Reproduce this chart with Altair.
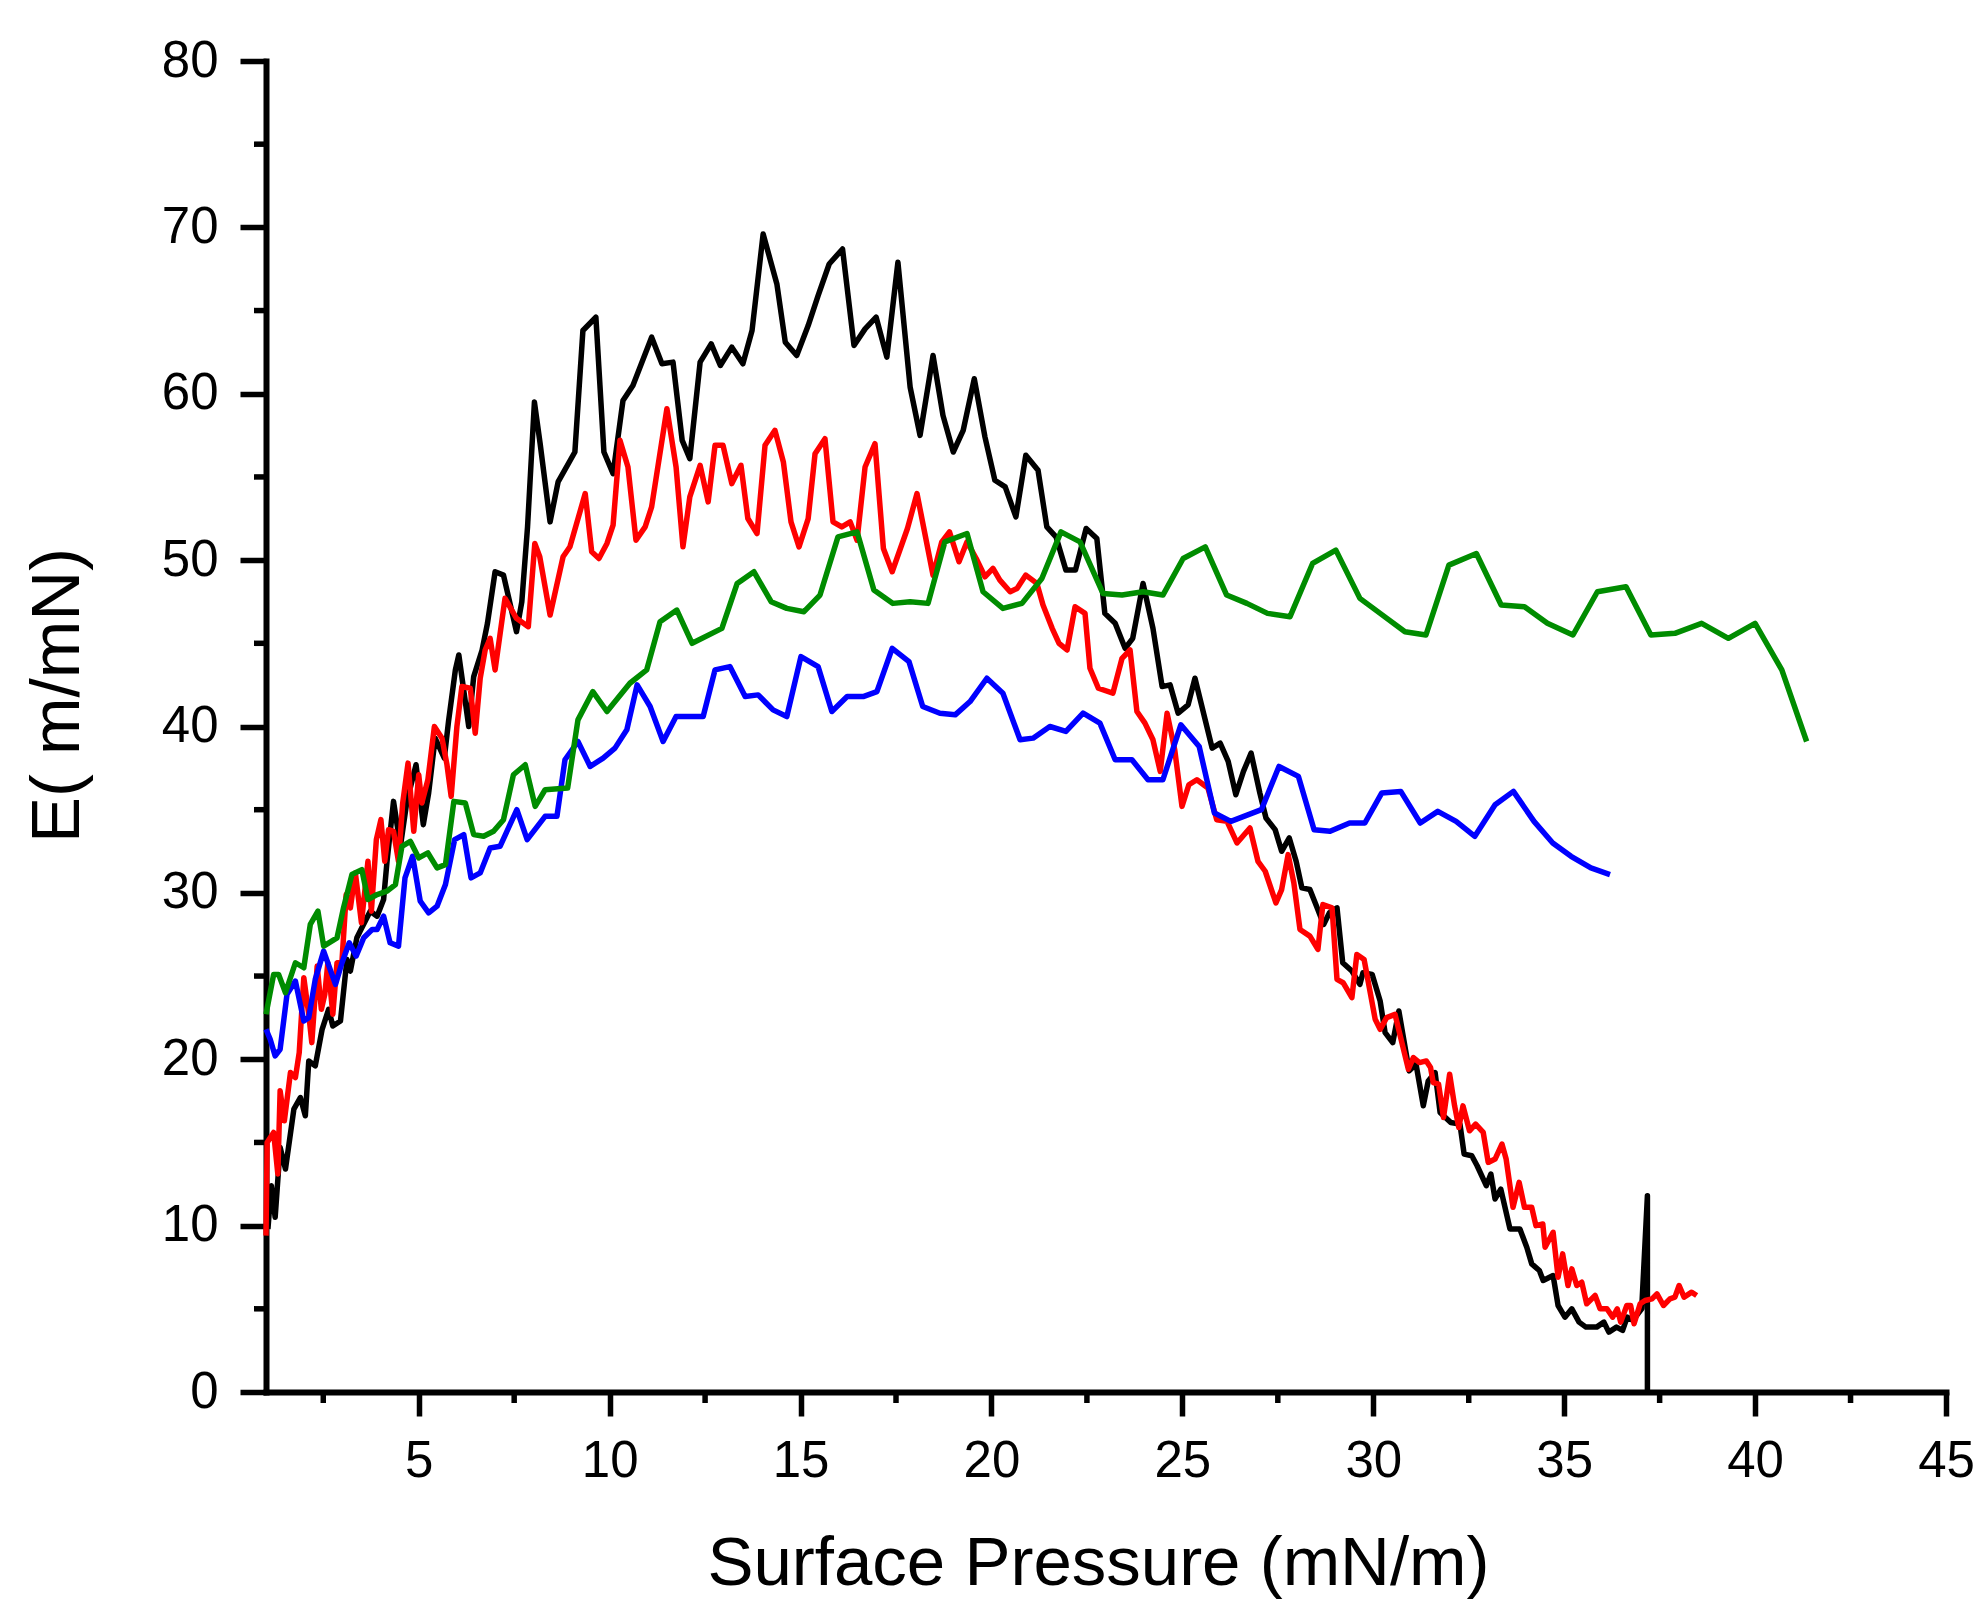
import altair as alt
import pandas as pd

# ---- data (x = surface pressure mN/m, y = E m/mN) ----
BLACK = [(1.05, 9.8), (1.14, 12.4), (1.24, 10.5), (1.37, 14.7), (1.51, 13.4), (1.73, 17.0), (1.9, 17.7),
         (2.03, 16.6), (2.12, 19.9), (2.29, 19.6), (2.47, 21.8), (2.64, 23.0), (2.75, 22.0), (2.95, 22.3),
         (3.12, 26.0), (3.21, 25.3), (3.38, 27.3), (3.51, 27.9), (3.73, 28.9), (3.91, 28.6), (4.08, 29.6),
         (4.17, 31.9), (4.34, 35.5), (4.46, 33.7), (4.52, 32.8), (4.69, 35.5), (4.93, 37.7), (5.12, 34.1),
         (5.26, 36.0), (5.43, 39.3), (5.67, 38.1), (5.78, 40.3), (5.96, 43.4), (6.05, 44.3), (6.31, 40.0),
         (6.44, 43.0), (6.66, 44.6), (6.8, 46.2), (7.0, 49.3), (7.22, 49.1), (7.56, 45.7), (7.7, 47.5),
         (7.85, 52.0), (8.03, 59.5), (8.18, 57.0), (8.44, 52.3), (8.65, 54.7), (9.09, 56.5), (9.3, 63.8),
         (9.64, 64.6), (9.85, 56.5), (10.09, 55.2), (10.35, 59.6), (10.61, 60.5), (11.1, 63.4), (11.37, 61.8),
         (11.66, 61.9), (11.9, 57.2), (12.1, 56.1), (12.37, 61.9), (12.66, 63.0), (12.9, 61.7), (13.2, 62.8),
         (13.49, 61.8), (13.73, 63.8), (14.02, 69.6), (14.38, 66.6), (14.6, 63.1), (14.9, 62.3), (15.2, 64.1),
         (15.46, 65.9), (15.75, 67.8), (16.1, 68.7), (16.4, 62.9), (16.69, 63.9), (16.98, 64.6), (17.26, 62.2),
         (17.55, 67.9), (17.87, 60.4), (18.13, 57.5), (18.47, 62.3), (18.73, 58.7), (19.0, 56.5), (19.26, 57.8),
         (19.55, 60.9), (19.83, 57.4), (20.09, 54.8), (20.36, 54.4), (20.64, 52.6), (20.9, 56.3), (21.22, 55.4),
         (21.45, 52.0), (21.69, 51.4), (21.95, 49.4), (22.2, 49.4), (22.48, 51.9), (22.76, 51.3), (22.97, 46.8),
         (23.24, 46.2), (23.5, 44.7), (23.7, 45.3), (23.97, 48.6), (24.23, 45.9), (24.47, 42.4), (24.68, 42.5),
         (24.89, 40.8), (25.15, 41.3), (25.33, 42.9), (25.78, 38.7), (25.99, 39.0), (26.2, 37.9), (26.4, 35.9),
         (26.6, 37.3), (26.8, 38.4), (27.03, 36.0), (27.19, 34.5), (27.43, 33.8), (27.6, 32.5), (27.8, 33.3),
         (27.98, 31.9), (28.13, 30.3), (28.34, 30.2), (28.53, 29.1), (28.7, 28.1), (28.85, 28.8), (29.05, 29.1),
         (29.2, 25.8), (29.44, 25.3), (29.65, 24.5), (29.73, 25.2), (29.97, 25.1), (30.18, 23.5), (30.31, 21.6),
         (30.51, 21.0), (30.67, 22.9), (30.94, 19.3), (31.12, 19.7), (31.31, 17.2), (31.44, 18.7), (31.62, 19.2),
         (31.75, 16.8), (32.03, 16.2), (32.27, 16.1), (32.38, 14.3), (32.58, 14.2), (32.72, 13.6), (32.96, 12.4),
         (33.08, 13.1), (33.19, 11.6), (33.34, 12.2), (33.58, 9.8), (33.84, 9.8), (34.02, 8.7), (34.15, 7.7),
         (34.35, 7.3), (34.45, 6.7), (34.71, 7.0), (34.84, 5.2), (35.02, 4.5), (35.2, 5.0), (35.39, 4.2),
         (35.57, 3.9), (35.85, 3.9), (36.04, 4.2), (36.17, 3.6), (36.37, 3.9), (36.53, 3.7), (36.65, 4.5),
         (36.8, 4.3), (37.03, 5.0), (37.18, 11.8), (37.18, 0.0)]

RED = [(1.0, 9.4), (1.03, 15.0), (1.2, 15.6), (1.31, 13.1), (1.37, 18.1), (1.48, 16.3), (1.64, 19.2),
       (1.77, 18.9), (1.87, 20.4), (1.99, 24.9), (2.12, 22.7), (2.2, 21.0), (2.34, 25.6), (2.45, 23.0),
       (2.54, 23.9), (2.62, 25.8), (2.75, 22.7), (2.86, 25.8), (2.99, 25.9), (3.1, 29.9), (3.21, 29.1),
       (3.34, 31.2), (3.5, 28.2), (3.67, 31.9), (3.76, 28.9), (3.89, 33.2), (4.01, 34.4), (4.11, 31.9),
       (4.21, 33.8), (4.34, 33.7), (4.47, 31.9), (4.58, 35.4), (4.72, 37.8), (4.87, 33.7), (5.0, 37.1),
       (5.08, 35.4), (5.24, 36.8), (5.41, 40.0), (5.61, 39.3), (5.74, 37.7), (5.85, 35.8), (6.0, 40.0),
       (6.13, 42.4), (6.35, 42.3), (6.48, 39.6), (6.61, 42.9), (6.74, 44.6), (6.87, 45.3), (7.0, 43.4),
       (7.26, 47.7), (7.56, 46.5), (7.87, 46.0), (8.04, 51.0), (8.17, 50.2), (8.44, 46.7), (8.78, 50.2),
       (8.96, 50.8), (9.36, 54.0), (9.53, 50.5), (9.72, 50.1), (9.93, 51.0), (10.09, 52.1), (10.27, 57.2),
       (10.48, 55.6), (10.69, 51.2), (10.93, 52.0), (11.1, 53.2), (11.5, 59.1), (11.74, 55.6), (11.92, 50.8),
       (12.1, 53.8), (12.37, 55.7), (12.58, 53.5), (12.76, 56.9), (12.97, 56.9), (13.2, 54.6), (13.44, 55.7),
       (13.62, 52.5), (13.86, 51.6), (14.07, 56.9), (14.33, 57.8), (14.55, 55.9), (14.75, 52.3), (14.96, 50.8),
       (15.2, 52.5), (15.38, 56.4), (15.64, 57.3), (15.85, 52.3), (16.08, 52.0), (16.3, 52.3), (16.48, 51.2),
       (16.69, 55.6), (16.95, 57.0), (17.17, 50.7), (17.4, 49.3), (17.8, 51.9), (18.05, 54.0), (18.47, 49.1),
       (18.7, 51.1), (18.9, 51.7), (19.15, 49.9), (19.36, 51.1), (19.6, 50.1), (19.83, 49.0), (20.04, 49.5),
       (20.22, 48.8), (20.49, 48.1), (20.67, 48.3), (20.9, 49.1), (21.19, 48.6), (21.35, 47.3), (21.59, 45.9),
       (21.77, 45.0), (21.98, 44.6), (22.19, 47.2), (22.45, 46.8), (22.58, 43.5), (22.8, 42.3), (23.18, 42.0),
       (23.42, 44.1), (23.63, 44.6), (23.81, 40.9), (24.02, 40.2), (24.23, 39.2), (24.42, 37.3), (24.6, 40.8),
       (24.8, 38.6), (24.99, 35.2), (25.17, 36.5), (25.38, 36.8), (25.67, 36.3), (25.9, 34.4), (26.17, 34.3),
       (26.43, 33.0), (26.77, 33.9), (26.98, 31.9), (27.17, 31.3), (27.45, 29.4), (27.6, 30.2), (27.77, 32.3),
       (27.92, 30.6), (28.08, 27.8), (28.34, 27.4), (28.55, 26.6), (28.68, 29.3), (28.92, 29.1), (29.05, 24.8),
       (29.21, 24.6), (29.44, 23.7), (29.57, 26.3), (29.76, 26.0), (30.05, 22.4), (30.18, 21.8), (30.35, 22.5),
       (30.57, 22.7), (30.77, 20.8), (30.92, 19.4), (31.05, 20.1), (31.21, 19.8), (31.39, 19.9), (31.5, 19.5),
       (31.57, 18.6), (31.71, 18.5), (31.84, 16.5), (32.0, 19.1), (32.13, 17.2), (32.24, 15.9), (32.35, 17.2),
       (32.52, 15.7), (32.68, 16.1), (32.88, 15.6), (33.01, 13.8), (33.19, 14.0), (33.37, 14.9), (33.48, 14.0),
       (33.66, 11.1), (33.82, 12.6), (33.96, 11.1), (34.15, 11.1), (34.26, 10.0), (34.44, 10.1), (34.5, 8.7),
       (34.71, 9.6), (34.84, 6.9), (34.96, 8.3), (35.1, 6.4), (35.2, 7.4), (35.33, 6.4), (35.46, 6.6),
       (35.59, 5.3), (35.81, 5.8), (35.94, 5.0), (36.12, 5.0), (36.27, 4.5), (36.39, 5.0), (36.48, 4.2),
       (36.64, 5.2), (36.74, 5.2), (36.83, 4.1), (36.99, 5.3), (37.12, 5.5), (37.3, 5.6), (37.43, 5.9),
       (37.6, 5.2), (37.77, 5.6), (37.9, 5.7), (38.01, 6.4), (38.14, 5.7), (38.34, 6.0), (38.47, 5.8)]

GREEN = [(1.0, 22.7), (1.2, 25.1), (1.33, 25.1), (1.51, 24.0), (1.77, 25.8), (1.99, 25.5), (2.16, 28.1),
         (2.36, 28.9), (2.51, 26.8), (2.86, 27.3), (3.03, 29.1), (3.25, 31.1), (3.51, 31.4), (3.67, 29.6),
         (3.91, 29.9), (4.17, 30.1), (4.39, 30.5), (4.56, 32.8), (4.78, 33.1), (5.0, 32.1), (5.24, 32.4),
         (5.48, 31.5), (5.7, 31.7), (5.92, 35.5), (6.22, 35.4), (6.44, 33.5), (6.7, 33.4), (6.96, 33.7),
         (7.22, 34.4), (7.48, 37.1), (7.79, 37.7), (8.05, 35.2), (8.31, 36.2), (8.9, 36.3), (9.17, 40.4),
         (9.56, 42.1), (9.93, 40.9), (10.53, 42.6), (10.97, 43.4), (11.32, 46.3), (11.76, 47.0), (12.16, 45.0),
         (12.94, 45.9), (13.34, 48.6), (13.78, 49.3), (14.23, 47.5), (14.64, 47.1), (15.09, 46.9), (15.51, 47.9),
         (15.98, 51.4), (16.48, 51.7), (16.92, 48.2), (17.42, 47.4), (17.87, 47.5), (18.34, 47.4), (18.78, 51.1),
         (19.36, 51.6), (19.78, 48.1), (20.3, 47.1), (20.8, 47.4), (21.32, 48.9), (21.82, 51.7), (22.32, 51.1),
         (22.92, 48.0), (23.42, 47.9), (23.97, 48.1), (24.49, 47.9), (25.02, 50.1), (25.6, 50.8), (26.16, 47.9),
         (26.69, 47.4), (27.23, 46.8), (27.82, 46.6), (28.41, 49.8), (29.02, 50.6), (29.65, 47.7), (30.18, 46.8),
         (30.83, 45.7), (31.38, 45.5), (31.98, 49.7), (32.7, 50.4), (33.35, 47.3), (33.96, 47.2), (34.56, 46.2),
         (35.23, 45.5), (35.87, 48.1), (36.62, 48.4), (37.27, 45.5), (37.9, 45.6), (38.6, 46.2), (39.3, 45.3),
         (40.0, 46.2), (40.7, 43.4), (41.35, 39.1)]

BLUE = [(1.0, 21.8), (1.11, 21.2), (1.24, 20.2), (1.37, 20.6), (1.55, 23.9), (1.77, 24.7), (1.99, 22.3),
        (2.12, 22.5), (2.29, 24.8), (2.51, 26.5), (2.82, 24.5), (2.99, 25.8), (3.18, 27.0), (3.36, 26.2),
        (3.56, 27.3), (3.78, 27.8), (3.91, 27.8), (4.08, 28.6), (4.25, 27.0), (4.47, 26.8), (4.64, 30.9),
        (4.84, 32.2), (5.04, 29.5), (5.26, 28.8), (5.48, 29.2), (5.7, 30.5), (5.94, 33.2), (6.18, 33.5),
        (6.37, 30.9), (6.61, 31.2), (6.87, 32.7), (7.13, 32.8), (7.57, 35.0), (7.84, 33.2), (8.31, 34.6),
        (8.62, 34.6), (8.83, 38.0), (9.17, 39.1), (9.49, 37.6), (9.83, 38.1), (10.14, 38.7), (10.45, 39.8),
        (10.72, 42.5), (11.06, 41.2), (11.4, 39.1), (11.74, 40.6), (12.45, 40.6), (12.76, 43.4), (13.15, 43.6),
        (13.55, 41.8), (13.89, 41.9), (14.28, 41.0), (14.64, 40.6), (15.01, 44.2), (15.46, 43.6), (15.82, 40.9),
        (16.22, 41.8), (16.64, 41.8), (17.0, 42.1), (17.4, 44.7), (17.84, 43.9), (18.2, 41.2), (18.65, 40.8),
        (19.05, 40.7), (19.44, 41.5), (19.88, 42.9), (20.3, 42.0), (20.75, 39.2), (21.09, 39.3), (21.53, 40.0),
        (21.95, 39.7), (22.4, 40.8), (22.84, 40.2), (23.24, 38.0), (23.68, 38.0), (24.1, 36.8), (24.49, 36.8),
        (24.96, 40.1), (25.44, 38.8), (25.84, 34.8), (26.27, 34.3), (27.07, 35.0), (27.53, 37.6), (28.04, 37.0),
        (28.45, 33.8), (28.87, 33.7), (29.38, 34.2), (29.78, 34.2), (30.22, 36.0), (30.72, 36.1), (31.23, 34.2),
        (31.69, 34.9), (32.17, 34.3), (32.66, 33.4), (33.19, 35.3), (33.67, 36.1), (34.21, 34.3), (34.7, 33.0),
        (35.18, 32.2), (35.7, 31.5), (36.2, 31.1)]

X_MAJOR = [5, 10, 15, 20, 25, 30, 35, 40, 45]
X_MINOR = [2.5, 7.5, 12.5, 17.5, 22.5, 27.5, 32.5, 37.5, 42.5]
Y_MAJOR = [0, 10, 20, 30, 40, 50, 60, 70, 80]
Y_MINOR = [5, 15, 25, 35, 45, 55, 65, 75]

X_TITLE = "Surface Pressure (mN/m)"
Y_TITLE = "E( m/mN)"

# ---- layout ----
W, H = 1680, 1331
FONT = "Liberation Sans"
LW = 5.5

xscale = alt.Scale(domain=[1, 45], nice=False, zero=False)
yscale = alt.Scale(domain=[0, 80], nice=False, zero=False)

xaxis = alt.Axis(values=X_MAJOR, title=X_TITLE, grid=False, tickSize=24, tickWidth=5.5, tickColor="black",
                 domainColor="black", domainWidth=6, domainCap="square",
                 labelFont=FONT, labelFontSize=51, labelColor="black", labelBaseline="alphabetic",
                 labelPadding=60, labelFlush=False, labelOverlap=False,
                 titleFont=FONT, titleFontSize=69, titleFontWeight="normal", titleColor="black",
                 titleBaseline="alphabetic", titleX=832, titleY=192)
yaxis = alt.Axis(values=Y_MAJOR, title=Y_TITLE, grid=False, tickSize=26, tickWidth=5.5, tickColor="black",
                 domainColor="black", domainWidth=6, domainCap="square",
                 labelFont=FONT, labelFontSize=51, labelColor="black", labelPadding=22,
                 labelFlush=False, labelOverlap=False,
                 titleFont=FONT, titleFontSize=69, titleFontWeight="normal", titleColor="black",
                 titleAngle=270, titleBaseline="alphabetic", titleAlign="center", titleX=-188, titleY=634)


def series_layer(points, color):
    df = pd.DataFrame({"x": [p[0] for p in points], "y": [p[1] for p in points],
                       "i": list(range(len(points)))})
    return alt.Chart(df).mark_line(color=color, strokeWidth=LW, strokeJoin="round").encode(
        x=alt.X("x:Q", scale=xscale, axis=xaxis),
        y=alt.Y("y:Q", scale=yscale, axis=yaxis),
        order=alt.Order("i:Q"),
    )


xminor = alt.Chart(pd.DataFrame({"x": X_MINOR})).mark_rule(color="black", strokeWidth=5.5).encode(
    x=alt.X("x:Q", scale=xscale, axis=xaxis),
    y=alt.value(H),
    y2=alt.value(H + 11),
)
yminor = alt.Chart(pd.DataFrame({"y": Y_MINOR})).mark_rule(color="black", strokeWidth=5.5).encode(
    y=alt.Y("y:Q", scale=yscale, axis=yaxis),
    x=alt.value(0),
    x2=alt.value(-12),
)

chart = alt.layer(
    xminor,
    yminor,
    series_layer(BLACK, "#000000"),
    series_layer(RED, "#FF0000"),
    series_layer(BLUE, "#0000FF"),
    series_layer(GREEN, "#008C00"),
).properties(
    width=W, height=H,
    autosize=alt.AutoSizeParams(type="none"),
    padding={"left": 258, "top": 53, "right": 30, "bottom": 212},
    background="white",
).configure_view(strokeWidth=0)

chart.save("out.html", embed_options={"renderer": "svg", "actions": False})
